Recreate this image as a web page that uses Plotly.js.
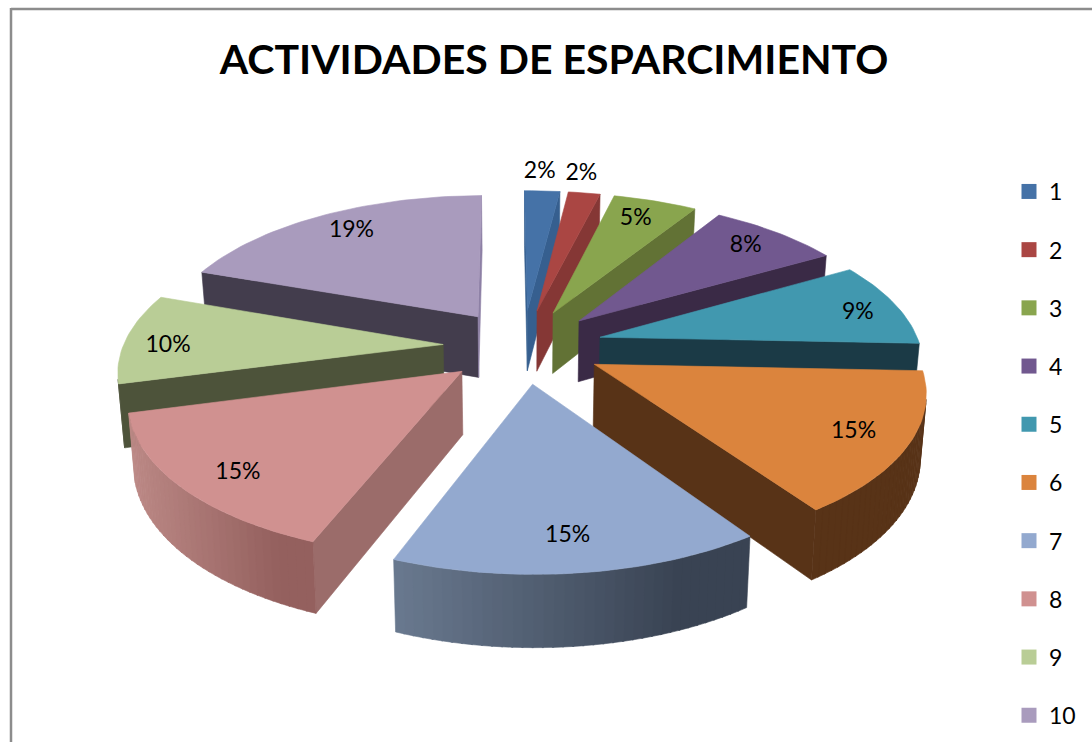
<!DOCTYPE html>
<html><head><meta charset="utf-8">
<script src="https://cdn.plot.ly/plotly-3.0.0.min.js"></script>
<style>html,body{margin:0;padding:0;background:#fff}</style></head>
<body><div id="chart" style="width:1092px;height:742px"></div>
<script>
// ---- data ----
const categories = ['1','2','3','4','5','6','7','8','9','10'];
const percents   = [2.1,1.9,5,7.8,9,14.8,15.4,15,9.6,19.4];
const chartTitle = 'ACTIVIDADES DE ESPARCIMIENTO';
// ---- styles ----
const topColors   = ['#4572A7','#AA4643','#89A54E','#71588F','#4198AF','#DB843D','#93A9CF','#D09190','#B9CD96','#A99BBD'];
const startFace   = ['#365F8F','#853735','#627235','#3A2A46','#1B3A46','#583317','#3A4455','#9B6C6A','#4D533A','#433D4D'];
const endFace     = ['#365F8F','#853735','#627235','#3A2A46','#1B3A46','#583317','#66788F','#9B6C6A','#4D533A','#8D80A5'];
const wallFrom    = ['#365F8F','#853735','#627235','#3A2A46','#1B3A46','#583317','#69798F','#BC8986','#4D533A','#433D4D'];
const wallTo      = ['#365F8F','#853735','#627235','#3A2A46','#1B3A46','#583317','#394353','#94605E','#4D533A','#433D4D'];
const labelRadius = [1.2,1.2,0.83,0.83,0.83,0.83,0.83,0.83,0.83,0.83];
const labelNudgeX = [-5,-11,-4,0,12,2,-3,4,-12,5];
const labelNudgeY = [2,1,1,0,4,2,0,7,7,0];
// ---- projection of the exploded 3-D pie ----
const view = {cx:523, cy:346, rx:320, ry:148, persp:0.153, depth:63, shrink:0.985, pull:0.25, rot:-0.5};
const deg = Math.PI/180;
function project(X, Y, low){
  let s = 1/(1+view.persp*Y);
  if (low) s *= view.shrink;
  return [view.cx + view.rx*X*s, view.cy - view.ry*Y*s + (low ? view.depth*s : 0)];
}
function mix(a,b,t){
  const p=c=>[1,3,5].map(i=>parseInt(c.substr(i,2),16));
  const A=p(a),B=p(b);
  return 'rgb('+A.map((v,i)=>Math.round(v+(B[i]-v)*t)).join(',')+')';
}
function poly(pts,color,w){
  const x=pts.map(p=>p[0]), y=pts.map(p=>p[1]);
  x.push(x[0]); y.push(y[0]);
  return {type:'scatter',mode:'lines',x,y,fill:'toself',fillcolor:color,
    line:{color:color,width:w||0.6},hoverinfo:'skip',showlegend:false};
}
function area(p){ let a=0; for(let i=0;i<p.length;i++){const q=p[(i+1)%p.length]; a+=p[i][0]*q[1]-q[0]*p[i][1];} return a/2; }

let acc=0;
const slices = percents.map((v,i)=>{
  const a0=acc*3.6+view.rot, a1=(acc+v)*3.6+view.rot; acc+=v;
  return {i,a0,a1,mid:(a0+a1)/2};
});
const order = slices.slice().sort((a,b)=>Math.cos(b.mid*deg)-Math.cos(a.mid*deg));
const traces=[];
const labelX=[],labelY=[],labelT=[];
order.forEach(S=>{
  const i=S.i;
  const px=view.pull*Math.sin(S.mid*deg), py=view.pull*Math.cos(S.mid*deg);
  const rim=(a,low)=>project(px+Math.sin(a*deg),py+Math.cos(a*deg),low);
  const tip=low=>project(px,py,low);
  // cut faces: only those turned towards the viewer
  const f0=[tip(false),rim(S.a0,false),rim(S.a0,true),tip(true)];
  const f1=[tip(false),rim(S.a1,false),rim(S.a1,true),tip(true)];
  if (area(f0)<0) traces.push(poly(f0,startFace[i]));
  if (area(f1)>0) traces.push(poly(f1,endFace[i]));
  // outer wall, split so it can carry the shading
  const n=Math.max(2,Math.round((S.a1-S.a0)/1.5));
  const xMin=rim(S.a0,false)[0], xMax=rim(S.a1,false)[0];
  for(let k=0;k<n;k++){
    const a=S.a0+(S.a1-S.a0)*k/n, b=S.a0+(S.a1-S.a0)*(k+1.15)/n;
    const q=[rim(a,false),rim(Math.min(b,S.a1),false),rim(Math.min(b,S.a1),true),rim(a,true)];
    if (area(q)>=0) continue;
    const xm=(q[0][0]+q[1][0])/2;
    const lo=Math.min(xMin,xMax), hi=Math.max(xMin,xMax);
    traces.push(poly(q,mix(wallFrom[i],wallTo[i],Math.min(1,(xm-lo)/(hi-lo)*1.25)),0));
  }
  // top face
  const top=[tip(false)];
  for(let k=0;k<=n;k++) top.push(rim(S.a0+(S.a1-S.a0)*k/n,false));
  traces.push(poly(top,topColors[i]));
  // label position
  const r=labelRadius[i];
  const L=project(px+r*Math.sin(S.mid*deg),py+r*Math.cos(S.mid*deg),false);
  labelX[i]=L[0]+labelNudgeX[i]; labelY[i]=L[1]+labelNudgeY[i]; labelT[i]=Math.round(percents[i])+'%';
});
traces.push({type:'scatter',mode:'text',x:labelX,y:labelY,text:labelT,textposition:'middle center',
  textfont:{family:'Lato, "Open Sans", sans-serif',size:23,color:'#000'},hoverinfo:'skip',showlegend:false});
categories.forEach((c,i)=>traces.push({type:'scatter',mode:'markers',x:[null],y:[null],name:c,
  legendgroup:'g'+i,legendrank:i+1,marker:{symbol:'square',size:15,color:topColors[i]},hoverinfo:'skip'}));

const layout={
  width:1092,height:742,margin:{l:0,r:0,t:0,b:0,autoexpand:false},paper_bgcolor:'#fff',plot_bgcolor:'#fff',
  xaxis:{range:[0,1092],visible:false,fixedrange:true},
  yaxis:{range:[742,0],visible:false,fixedrange:true},
  title:{text:chartTitle,x:554/1092,xanchor:'center',y:1-60/742,yanchor:'middle',
    font:{family:'Lato, "Open Sans", sans-serif',size:41,color:'#000',weight:700}},
  legend:{x:1009/1092,xanchor:'left',y:1-170/742,yanchor:'top',traceorder:'grouped',tracegroupgap:25.3,
    bgcolor:'rgba(0,0,0,0)',font:{family:'Lato, "Open Sans", sans-serif',size:23,color:'#000'}},
  shapes:[{type:'line',xref:'paper',yref:'paper',x0:11/1092,x1:1,y0:1-9/742,y1:1-9/742,line:{color:'#8C8C8C',width:2.5}},
          {type:'line',xref:'paper',yref:'paper',x0:11/1092,x1:11/1092,y0:1-8/742,y1:0,line:{color:'#8C8C8C',width:2.5}}]
};
Plotly.newPlot('chart',traces,layout,{displayModeBar:false,staticPlot:true});
</script></body></html>
